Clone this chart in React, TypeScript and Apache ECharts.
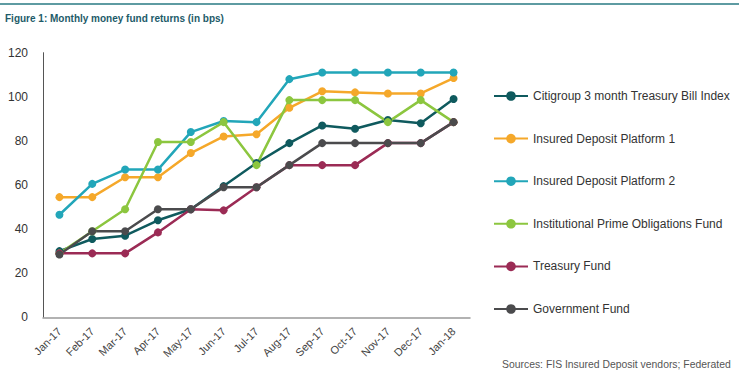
import React, { useEffect, useRef } from "react";
import * as echarts from "echarts";

const categories = ["Jan-17", "Feb-17", "Mar-17", "Apr-17", "May-17", "Jun-17", "Jul-17", "Aug-17", "Sep-17", "Oct-17", "Nov-17", "Dec-17", "Jan-18"];
const citigroup = [30, 35.5, 37, 44, 49, 59.5, 70, 79, 87, 85.5, 89.5, 88, 99];
const platform1 = [54.5, 54.5, 63.5, 63.5, 74.5, 82, 83, 95, 102.5, 102, 101.5, 101.5, 108.5];
const platform2 = [46.5, 60.5, 67, 67, 84, 89, 88.5, 108, 111, 111, 111, 111, 111];
const primeObligations = [29, 39, 49, 79.5, 79.5, 88.5, 69, 98.5, 98.5, 98.5, 88.5, 98.5, 88.5];
const treasuryFund = [29, 29, 29, 38.5, 49, 48.5, 59, 69, 69, 69, 79, 79, 88.5];
const governmentFund = [28.5, 39, 39, 49, 49, 59, 59, 69, 79, 79, 79, 79, 88.5];
const yTicks = [0, 20, 40, 60, 80, 100, 120];

const seriesDefs = [
  { name: "Citigroup 3 month Treasury Bill Index", data: citigroup, color: "#0f5a5e" },
  { name: "Insured Deposit Platform 1", data: platform1, color: "#f5a82a" },
  { name: "Insured Deposit Platform 2", data: platform2, color: "#22a6b9" },
  { name: "Institutional Prime Obligations Fund", data: primeObligations, color: "#8cc63f" },
  { name: "Treasury Fund", data: treasuryFund, color: "#9b2b55" },
  { name: "Government Fund", data: governmentFund, color: "#4b4b4d" },
];

const FONT = "'Liberation Sans', Arial, Helvetica, sans-serif";

export default function App() {
  const ref = useRef<HTMLDivElement>(null);
  useEffect(() => {
    if (!ref.current) return;
    const chart = echarts.init(ref.current, undefined, { renderer: "svg" });
    chart.setOption({
      animation: false,
      backgroundColor: "#ffffff",
      textStyle: { fontFamily: FONT },
      graphic: [
        { type: "line", shape: { x1: 0, y1: 4, x2: 739, y2: 4 }, style: { stroke: "#5e9ba2", lineWidth: 2 } },
        {
          type: "text",
          left: 5,
          top: 13,
          style: { text: "Figure 1: Monthly money fund returns (in bps)", fill: "#1d5b69", font: `bold 10px ${FONT}` },
        },
        {
          type: "text",
          left: 502,
          top: 359,
          style: { text: "Sources: FIS Insured Deposit vendors; Federated", fill: "#555555", font: `10.4px ${FONT}` },
        },
      ],
      grid: { left: 43, right: 269, top: 52.7, bottom: 61.7, containLabel: false },
      legend: {
        orient: "vertical",
        left: 488,
        top: 85,
        itemWidth: 34,
        itemHeight: 12,
        itemGap: 30.6,
        textStyle: { fontSize: 12, color: "#333333", fontFamily: FONT },
        data: seriesDefs.map((s) => s.name),
      },
      xAxis: {
        type: "category",
        data: categories,
        boundaryGap: true,
        offset: 5,
        axisLine: { lineStyle: { color: "#999999", width: 1.5 } },
        axisTick: { show: false },
        axisLabel: { rotate: 45, fontSize: 11, color: "#444444", margin: 7, interval: 0 },
      },
      yAxis: {
        type: "value",
        min: yTicks[0],
        max: yTicks[yTicks.length - 1],
        interval: 20,
        axisLine: { show: true, lineStyle: { color: "#555555", width: 1 } },
        axisTick: { show: false },
        splitLine: { show: false },
        axisLabel: { fontSize: 12, color: "#333333", margin: 15 },
      },
      series: seriesDefs.map((s) => ({
        name: s.name,
        type: "line",
        data: s.data,
        color: s.color,
        symbol: "circle",
        symbolSize: 8,
        lineStyle: { width: 2.5, color: s.color },
        itemStyle: { color: s.color },
      })),
    });
    return () => chart.dispose();
  }, []);
  return <div ref={ref} style={{ position: "fixed", left: 0, top: 0, width: 739, height: 379 }} />;
}
